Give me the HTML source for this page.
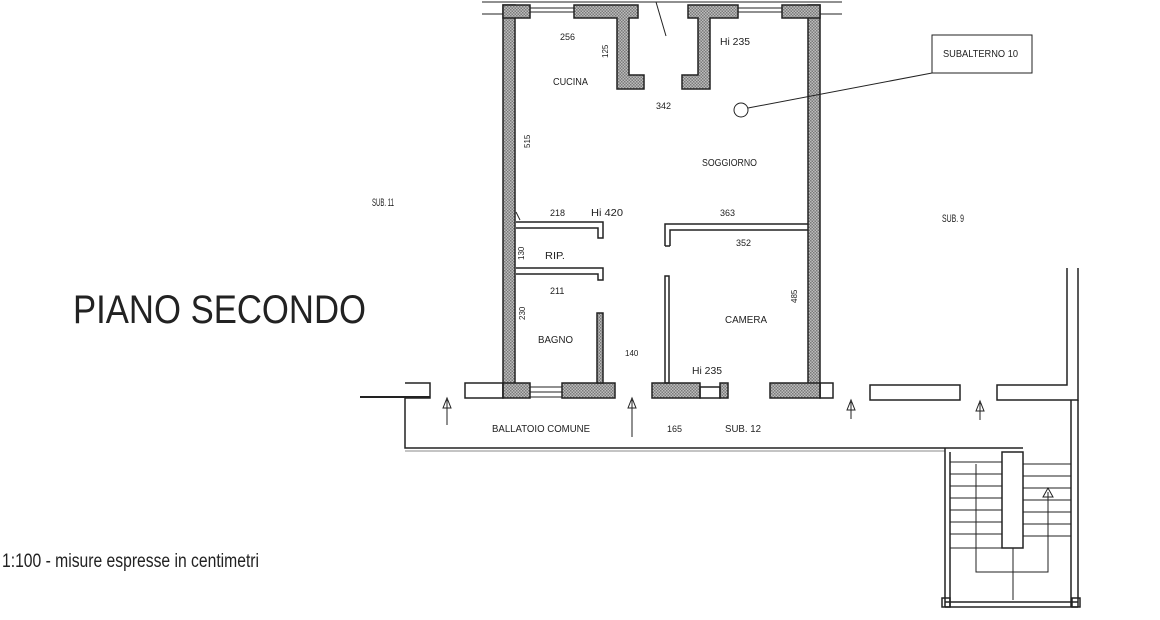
<!DOCTYPE html>
<html><head><meta charset="utf-8"><style>
html,body{margin:0;padding:0;background:#fff;width:1160px;height:620px;overflow:hidden}
svg text{font-family:"Liberation Sans Narrow","Liberation Sans",sans-serif;fill:#222}
</style></head><body>
<svg width="1160" height="620" viewBox="0 0 1160 620" xmlns="http://www.w3.org/2000/svg">
<defs>
<pattern id="h" width="3" height="3" patternUnits="userSpaceOnUse">
<rect width="3" height="3" fill="#bdbdbd"/><rect width="1.5" height="1.5" fill="#7a7a7a"/><rect x="1.5" y="1.5" width="1.5" height="1.5" fill="#7a7a7a"/>
</pattern>
</defs>
<g stroke="#222" stroke-width="1.5" fill="url(#h)">
<rect x="503" y="5" width="12" height="392"/>
<rect x="808" y="5" width="12" height="392"/>
<rect x="503" y="5" width="27" height="13"/>
<path d="M574 5 H638 V18 H629 V75 H644 V89 H617 V18 H574 Z"/>
<path d="M688 5 H738 V18 H710 V89 H682 V75 H698 V18 H688 Z"/>
<rect x="782" y="5" width="38" height="13"/>
<rect x="503" y="383" width="27" height="15"/>
<rect x="562" y="383" width="53" height="15"/>
<rect x="652" y="383" width="48" height="15"/>
<rect x="720" y="383" width="8" height="15"/>
<rect x="770" y="383" width="50" height="15"/>
<rect x="597" y="313" width="6" height="70"/>
</g>
<g stroke="#222" stroke-width="1.5" fill="none">
<line x1="482" y1="2" x2="842" y2="2" stroke-width="1"/>
<line x1="482" y1="14" x2="503" y2="14" stroke-width="1"/>
<line x1="820" y1="14" x2="842" y2="14" stroke-width="1"/>
<line x1="530" y1="8" x2="574" y2="8" stroke-width="1"/><line x1="530" y1="12" x2="574" y2="12" stroke-width="1"/>
<line x1="738" y1="8" x2="782" y2="8" stroke-width="1"/><line x1="738" y1="12" x2="782" y2="12" stroke-width="1"/>
<line x1="530" y1="387" x2="562" y2="387" stroke-width="1"/><line x1="530" y1="392" x2="562" y2="392" stroke-width="1"/><line x1="530" y1="397" x2="562" y2="397" stroke-width="1"/>
<rect x="700" y="387" width="20" height="11"/>
<rect x="820" y="383" width="13" height="15"/>
<rect x="465" y="383" width="38" height="15"/>
<path d="M405 383 h25 v15 h-25"/>
<line x1="360" y1="397" x2="430" y2="397" stroke-width="2"/>
<path d="M405 397 V448 H945"/>
<line x1="405" y1="451" x2="945" y2="451" stroke-width="1" stroke="#888"/>
<path d="M516 222 H603 V238 H598 V228 H516"/>
<path d="M516 268 H603 V280 H598 V274 H516"/>
<path d="M665 246 V224 H808 M670 246 V230 H808"/>
<line x1="665" y1="246" x2="670" y2="246"/>
<rect x="665" y="276" width="4" height="107"/>
<line x1="516" y1="212" x2="520" y2="220" stroke-width="1"/>
<rect x="870" y="385" width="90" height="15"/>
<path d="M1067 268 V385 H997 V400 H1078 V268"/>
<line x1="1071" y1="400" x2="1071" y2="607"/>
<line x1="1078" y1="400" x2="1078" y2="607"/>
<path d="M945 448 H1023"/>
<line x1="945" y1="448" x2="945" y2="607"/><line x1="950" y1="452" x2="950" y2="607"/>
<line x1="945" y1="602" x2="1078" y2="602"/><line x1="945" y1="607" x2="1078" y2="607"/>
<rect x="942" y="598" width="8" height="9"/><rect x="1072" y="598" width="8" height="9"/>
<rect x="1002" y="452" width="21" height="96"/>
<g stroke-width="1">
<line x1="950" y1="462" x2="1002" y2="462"/><line x1="950" y1="474" x2="1002" y2="474"/><line x1="950" y1="486" x2="1002" y2="486"/><line x1="950" y1="498" x2="1002" y2="498"/><line x1="950" y1="510" x2="1002" y2="510"/><line x1="950" y1="522" x2="1002" y2="522"/><line x1="950" y1="534" x2="1002" y2="534"/><line x1="950" y1="548" x2="1002" y2="548"/>
<line x1="1023" y1="464" x2="1071" y2="464"/><line x1="1023" y1="476" x2="1071" y2="476"/><line x1="1023" y1="488" x2="1071" y2="488"/><line x1="1023" y1="500" x2="1071" y2="500"/><line x1="1023" y1="512" x2="1071" y2="512"/><line x1="1023" y1="524" x2="1071" y2="524"/><line x1="1023" y1="536" x2="1071" y2="536"/>
<path d="M976 464 V572 H1048 V492"/>
<line x1="1013" y1="548" x2="1013" y2="600"/>
<path d="M1043 497 L1048 488 L1053 497 Z"/>
</g>
<g stroke-width="1">
<path d="M447 425 V400 M443 408 L447 398 L451 408 Z"/>
<path d="M632 437 V400 M628 408 L632 398 L636 408 Z"/>
<path d="M851 419 V402 M847 410 L851 400 L855 410 Z"/>
<path d="M980 420 V403 M976 411 L980 401 L984 411 Z"/>
<line x1="656" y1="2" x2="666" y2="36"/>
<circle cx="741" cy="110" r="7"/>
<line x1="748" y1="108" x2="932" y2="73"/>
<rect x="932" y="35" width="100" height="38"/>
</g>
</g>
<text x="73" y="323" font-size="40" textLength="293" lengthAdjust="spacingAndGlyphs" style="font-family:'Liberation Sans',sans-serif" fill="#222">PIANO SECONDO</text>
<text x="2" y="567" font-size="19" textLength="257" lengthAdjust="spacingAndGlyphs">1:100 - misure espresse in centimetri</text>
<g font-size="10">
<text x="943" y="57" textLength="75" lengthAdjust="spacingAndGlyphs">SUBALTERNO 10</text>
<text x="560" y="40" font-size="9">256</text>
<text x="720" y="45" textLength="30" lengthAdjust="spacingAndGlyphs">Hi 235</text>
<text x="553" y="85" textLength="35" lengthAdjust="spacingAndGlyphs">CUCINA</text>
<text x="656" y="109" font-size="9">342</text>
<text x="702" y="166" textLength="55" lengthAdjust="spacingAndGlyphs">SOGGIORNO</text>
<text x="372" y="206" font-size="11" textLength="22" lengthAdjust="spacingAndGlyphs">SUB. 11</text>
<text x="942" y="222" font-size="11" textLength="22" lengthAdjust="spacingAndGlyphs">SUB. 9</text>
<text x="550" y="216" font-size="9">218</text>
<text x="591" y="216" textLength="32" lengthAdjust="spacingAndGlyphs">Hi 420</text>
<text x="720" y="216" font-size="9">363</text>
<text x="736" y="246" font-size="9">352</text>
<text x="545" y="259" textLength="20" lengthAdjust="spacingAndGlyphs">RIP.</text>
<text x="550" y="294" font-size="9">211</text>
<text x="725" y="323" textLength="42" lengthAdjust="spacingAndGlyphs">CAMERA</text>
<text x="538" y="343" textLength="35" lengthAdjust="spacingAndGlyphs">BAGNO</text>
<text x="625" y="356" font-size="8">140</text>
<text x="692" y="374" textLength="30" lengthAdjust="spacingAndGlyphs">Hi 235</text>
<text x="492" y="432" textLength="98" lengthAdjust="spacingAndGlyphs">BALLATOIO COMUNE</text>
<text x="667" y="432" font-size="9">165</text>
<text x="725" y="432" textLength="36" lengthAdjust="spacingAndGlyphs">SUB. 12</text>
</g>
<g font-size="8">
<text transform="translate(608,58) rotate(-90)">125</text>
<text transform="translate(530,148) rotate(-90)">515</text>
<text transform="translate(524,260) rotate(-90)">130</text>
<text transform="translate(525,320) rotate(-90)">230</text>
<text transform="translate(797,303) rotate(-90)">485</text>
</g>
</svg>
</body></html>
